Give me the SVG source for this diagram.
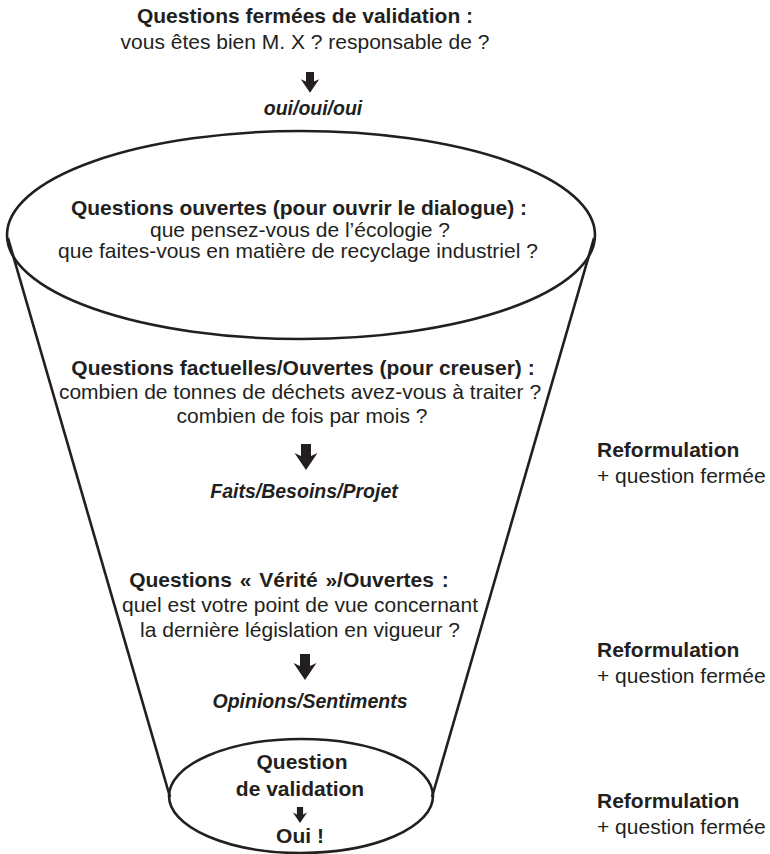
<svg xmlns="http://www.w3.org/2000/svg" xmlns:xlink="http://www.w3.org/1999/xlink" width="770" height="854" viewBox="0 0 770 854">
  <style>
    text { font-family: "Liberation Sans", Arial, Helvetica, sans-serif; font-size: 21px; fill: #231f20; }
    .c { text-anchor: middle; }
    .b { font-weight: bold; }
    .bi { font-weight: bold; font-style: italic; font-size: 19.5px; }
    .shape { fill: none; stroke: #231f20; stroke-width: 2.6; }
    .arrow { fill: #231f20; }
  </style>
  <defs>
    <!-- bold downward arrow, top centred at origin -->
    <path id="down" class="arrow" d="M-5,0 H5 V12 L11.5,9 L0,26 L-11.5,9 L-5,12 Z"/>
  </defs>

  <rect width="770" height="854" fill="#ffffff"/>

  <!-- funnel outline -->
  <g id="connectors">
    <line class="shape" x1="8" y1="238" x2="170" y2="797"/>
    <line class="shape" x1="594" y1="238" x2="432" y2="797"/>
  </g>

  <g id="validation-top">
    <text class="c b" x="305" y="23">Questions fermées de validation :</text>
    <text class="c" x="305" y="49">vous êtes bien M. X ? responsable de ?</text>
    <use xlink:href="#down" transform="translate(310,72) scale(0.8)"/>
    <text class="c bi" x="313" y="115">oui/oui/oui</text>
  </g>

  <g id="open-questions">
    <ellipse class="shape" cx="301" cy="235" rx="294" ry="104" fill="#ffffff"/>
    <text class="c b" x="299" y="215">Questions ouvertes (pour ouvrir le dialogue) :</text>
    <text class="c" x="300" y="237">que pensez-vous de l’écologie ?</text>
    <text class="c" x="298" y="258">que faites-vous en matière de recyclage industriel ?</text>
  </g>

  <g id="factual-questions">
    <text class="c b" x="303" y="375">Questions factuelles/Ouvertes (pour creuser) :</text>
    <text class="c" x="300" y="399">combien de tonnes de déchets avez-vous à traiter ?</text>
    <text class="c" x="302" y="423">combien de fois par mois ?</text>
    <use xlink:href="#down" transform="translate(306,444)"/>
    <text class="c bi" x="304" y="498">Faits/Besoins/Projet</text>
  </g>

  <g id="truth-questions">
    <text class="c b" x="289" y="587" word-spacing="2">Questions « Vérité »/Ouvertes :</text>
    <text class="c" x="300" y="612">quel est votre point de vue concernant</text>
    <text class="c" x="300" y="637">la dernière législation en vigueur ?</text>
    <use xlink:href="#down" transform="translate(305,654)"/>
    <text class="c bi" x="310" y="708">Opinions/Sentiments</text>
  </g>

  <g id="final-validation">
    <ellipse class="shape" cx="301" cy="796" rx="132" ry="57" fill="#ffffff"/>
    <text class="c b" x="302" y="769">Question</text>
    <text class="c b" x="300" y="796">de validation</text>
    <use xlink:href="#down" transform="translate(300,807) scale(0.62)"/>
    <text class="c b" x="300" y="843">Oui !</text>
  </g>

  <g id="reformulation-1">
    <text class="b" x="597" y="457">Reformulation</text>
    <text x="597" y="483">+ question fermée</text>
  </g>
  <g id="reformulation-2">
    <text class="b" x="597" y="657">Reformulation</text>
    <text x="597" y="683">+ question fermée</text>
  </g>
  <g id="reformulation-3">
    <text class="b" x="597" y="808">Reformulation</text>
    <text x="597" y="834">+ question fermée</text>
  </g>
</svg>
